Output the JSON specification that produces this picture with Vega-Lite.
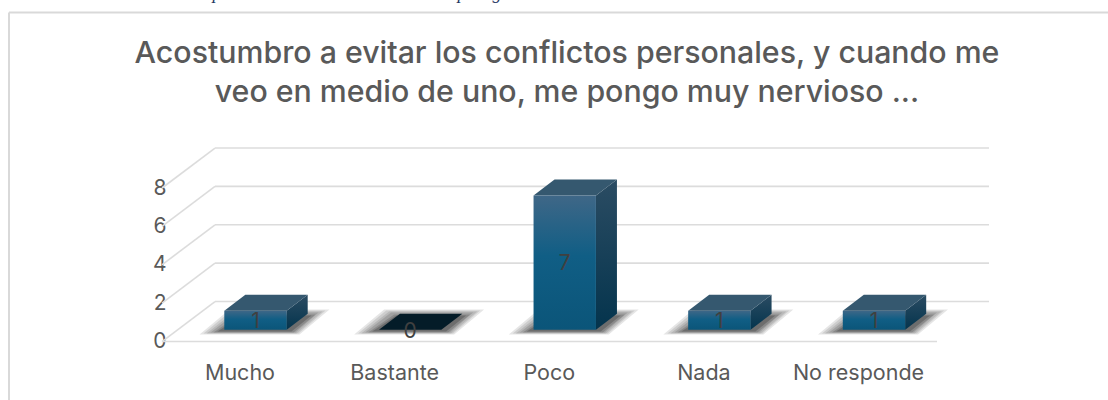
{
"$schema":"https://vega.github.io/schema/vega-lite/v6.json",
"width":1108,"height":400,"autosize":{"type":"none"},"padding":0,
"background":"white",
"view":{"stroke":null},
"config":{"font":"Inter"},
"title":{"text":["Acostumbro a evitar los conflictos personales, y cuando me","veo en medio de uno, me pongo muy nervioso ..."],"anchor":"middle","frame":"group","offset":-124,"fontSize":30.3,"fontWeight":500,"color":"#595959","font":"Inter","lineHeight":39,"dx":13},
"datasets":{
"answers":[{"respuesta":"Mucho","value":1},{"respuesta":"Bastante","value":0},{"respuesta":"Poco","value":7},{"respuesta":"Nada","value":1},{"respuesta":"No responde","value":1}],
"levels":[{"level":0,"back":2.08},{"level":2,"back":4.08},{"level":4,"back":6.08},{"level":6,"back":8.08},{"level":8,"back":10.08}]
},
"resolve":{"scale":{"x":"independent","y":"independent"}},
"layer":[
{"data":{"values":[{}]},"mark":{"type":"text","font":"Liberation Serif","fontStyle":"italic","fontSize":18,"color":"#1f3864","baseline":"alphabetic"},
 "encoding":{"text":{"value":"p"},"y":{"datum":17.86,"type":"quantitative","axis":null,"scale":{"domain":[-3.0469,17.7969],"range":[400,0],"nice":false,"zero":false}},
 "x":{"datum":55,"type":"quantitative","axis":null,"scale":{"domain":[-162,946],"range":[0,1108],"nice":false,"zero":false}}}},
{"data":{"values":[{}]},"mark":{"type":"text","font":"Liberation Serif","fontStyle":"italic","fontSize":18,"color":"#1f3864","baseline":"alphabetic"},
 "encoding":{"text":{"value":"p"},"y":{"datum":17.86,"type":"quantitative","axis":null,"scale":{"domain":[-3.0469,17.7969],"range":[400,0],"nice":false,"zero":false}},
 "x":{"datum":300,"type":"quantitative","axis":null,"scale":{"domain":[-162,946],"range":[0,1108],"nice":false,"zero":false}}}},
{"data":{"values":[{}]},"mark":{"type":"text","font":"Liberation Serif","fontStyle":"italic","fontSize":18,"color":"#1f3864","baseline":"alphabetic"},
 "encoding":{"text":{"value":"g"},"y":{"datum":17.86,"type":"quantitative","axis":null,"scale":{"domain":[-3.0469,17.7969],"range":[400,0],"nice":false,"zero":false}},
 "x":{"datum":335,"type":"quantitative","axis":null,"scale":{"domain":[-162,946],"range":[0,1108],"nice":false,"zero":false}}}},
{"data":{"name":"levels"},"mark":{"type":"rule","color":"#dcdcdc","strokeWidth":1.6,"xOffset":53,"x2Offset":53,"yOffset":-40},
 "encoding":{"y":{"field":"level","type":"quantitative","axis":null,"scale":{"domain":[-3.0469,17.7969],"range":[400,0],"nice":false,"zero":false}},
 "x":{"datum":0,"type":"quantitative","axis":null,"scale":{"domain":[-162,946],"range":[0,1108],"nice":false,"zero":false}},"x2":{"datum":774}}},
{"data":{"name":"levels"},"mark":{"type":"rule","color":"#dcdcdc","strokeWidth":1.6},
 "encoding":{"y":{"field":"level","type":"quantitative","axis":null,"scale":{"domain":[-3.0469,17.7969],"range":[400,0],"nice":false,"zero":false}},
 "y2":{"field":"back"},
 "x":{"datum":0,"type":"quantitative","axis":null,"scale":{"domain":[-162,946],"range":[0,1108],"nice":false,"zero":false}},"x2":{"datum":53}}},
{"data":{"values":[{"level":0}]},"mark":{"type":"rule","color":"#dcdcdc","strokeWidth":1.6},
 "encoding":{"y":{"field":"level","type":"quantitative","axis":null,"scale":{"domain":[-3.0469,17.7969],"range":[400,0],"nice":false,"zero":false}},
 "x":{"datum":0,"type":"quantitative","axis":null,"scale":{"domain":[-162,946],"range":[0,1108],"nice":false,"zero":false}},"x2":{"datum":775}}},
{"data":{"values":[{"level":17.15}]},"mark":{"type":"rule","color":"#d9d9d9","strokeWidth":2},
 "encoding":{"y":{"field":"level","type":"quantitative","axis":null,"scale":{"domain":[-3.0469,17.7969],"range":[400,0],"nice":false,"zero":false}},
 "x":{"datum":-153,"type":"quantitative","axis":null,"scale":{"domain":[-162,946],"range":[0,1108],"nice":false,"zero":false}},"x2":{"datum":946}}},
{"data":{"values":[{"level":17.15}]},"mark":{"type":"rule","color":"#d9d9d9","strokeWidth":2},
 "encoding":{"y":{"field":"level","type":"quantitative","axis":null,"scale":{"domain":[-3.0469,17.7969],"range":[400,0],"nice":false,"zero":false}},"y2":{"datum":-3.05},
 "x":{"datum":-153,"type":"quantitative","axis":null,"scale":{"domain":[-162,946],"range":[0,1108],"nice":false,"zero":false}}}},
{"data":{"name":"answers"},"mark":{"type":"point","filled":true,"size":4,"opacity":0.1,"color":"#000","shape":"M-56,-7L44,-7L74,-32L-26,-32Z"},
 "encoding":{"x":{"field":"respuesta","type":"nominal","sort":null,"axis":null,"scale":{"type":"point","padding":0,"domain":["Mucho","Bastante","Poco","Nada","No responde"],"range":[255.5,874]}},
 "y":{"datum":0,"type":"quantitative","axis":null,"scale":{"domain":[-3.0469,17.7969],"range":[400,0],"nice":false,"zero":false}}}},
{"data":{"name":"answers"},"mark":{"type":"point","filled":true,"size":4,"opacity":0.1,"color":"#000","shape":"M-52,-8L43,-8L70,-31L-24,-31Z"},
 "encoding":{"x":{"field":"respuesta","type":"nominal","sort":null,"axis":null,"scale":{"type":"point","padding":0,"domain":["Mucho","Bastante","Poco","Nada","No responde"],"range":[255.5,874]}},
 "y":{"datum":0,"type":"quantitative","axis":null,"scale":{"domain":[-3.0469,17.7969],"range":[400,0],"nice":false,"zero":false}}}},
{"data":{"name":"answers"},"mark":{"type":"point","filled":true,"size":4,"opacity":0.1,"color":"#000","shape":"M-49,-8L41,-8L67,-30L-21,-30Z"},
 "encoding":{"x":{"field":"respuesta","type":"nominal","sort":null,"axis":null,"scale":{"type":"point","padding":0,"domain":["Mucho","Bastante","Poco","Nada","No responde"],"range":[255.5,874]}},
 "y":{"datum":0,"type":"quantitative","axis":null,"scale":{"domain":[-3.0469,17.7969],"range":[400,0],"nice":false,"zero":false}}}},
{"data":{"name":"answers"},"mark":{"type":"point","filled":true,"size":4,"opacity":0.12,"color":"#000","shape":"M-45,-9L40,-9L63,-29L-19,-29Z"},
 "encoding":{"x":{"field":"respuesta","type":"nominal","sort":null,"axis":null,"scale":{"type":"point","padding":0,"domain":["Mucho","Bastante","Poco","Nada","No responde"],"range":[255.5,874]}},
 "y":{"datum":0,"type":"quantitative","axis":null,"scale":{"domain":[-3.0469,17.7969],"range":[400,0],"nice":false,"zero":false}}}},
{"data":{"name":"answers"},"mark":{"type":"point","filled":true,"size":4,"opacity":0.15,"color":"#000","shape":"M-42,-9L38,-9L60,-27L-16,-27Z"},
 "encoding":{"x":{"field":"respuesta","type":"nominal","sort":null,"axis":null,"scale":{"type":"point","padding":0,"domain":["Mucho","Bastante","Poco","Nada","No responde"],"range":[255.5,874]}},
 "y":{"datum":0,"type":"quantitative","axis":null,"scale":{"domain":[-3.0469,17.7969],"range":[400,0],"nice":false,"zero":false}}}},
{"data":{"name":"answers"},"mark":{"type":"point","filled":true,"size":4,"opacity":0.2,"color":"#000","shape":"M-38,-10L36,-10L56,-26L-14,-26Z"},
 "encoding":{"x":{"field":"respuesta","type":"nominal","sort":null,"axis":null,"scale":{"type":"point","padding":0,"domain":["Mucho","Bastante","Poco","Nada","No responde"],"range":[255.5,874]}},
 "y":{"datum":0,"type":"quantitative","axis":null,"scale":{"domain":[-3.0469,17.7969],"range":[400,0],"nice":false,"zero":false}}}},
{"data":{"name":"answers"},"transform":[{"filter":"datum.value > 0"}],
 "mark":{"type":"point","filled":true,"size":4,"opacity":1,"color":{"x1":0,"y1":0,"x2":0,"y2":1,"gradient":"linear","stops":[{"offset":0,"color":"#2b4c63"},{"offset":1,"color":"#04344d"}]}},
 "encoding":{"x":{"field":"respuesta","type":"nominal","sort":null,"axis":null,"scale":{"type":"point","padding":0,"domain":["Mucho","Bastante","Poco","Nada","No responde"],"range":[255.5,874]}},
 "y":{"datum":0,"type":"quantitative","axis":null,"scale":{"domain":[-3.0469,17.7969],"range":[400,0],"nice":false,"zero":false}},
 "shape":{"field":"value","type":"nominal","legend":null,"scale":{"domain":[1,7],"range":["M31.2,-11.7L52.2,-27.7L52.2,-46.9L31.2,-30.9Z","M31.2,-11.7L52.2,-27.7L52.2,-162.1L31.2,-146.1Z"]}}}},
{"data":{"name":"answers"},"mark":{"type":"point","filled":true,"size":4,"opacity":1,"shape":"M-31.2,-11.7L31.2,-11.7L52.2,-27.7L-10.2,-27.7Z"},
 "encoding":{"x":{"field":"respuesta","type":"nominal","sort":null,"axis":{"orient":"bottom","offset":-27,"domain":false,"ticks":false,"title":null,"labelAngle":0,"labelFontSize":21.5,"labelColor":"#595959","labelFont":"Inter","labelFontWeight":400,"labelPadding":0,"labelOffset":-16,"labelBaseline":"middle"},"scale":{"type":"point","padding":0,"domain":["Mucho","Bastante","Poco","Nada","No responde"],"range":[255.5,874]}},
 "y":{"field":"value","type":"quantitative","axis":{"orient":"left","offset":-166,"grid":false,"domain":false,"ticks":false,"title":null,"values":[0,2,4,6,8],"labelFontSize":21,"labelColor":"#595959","labelFont":"Inter","labelPadding":0},"scale":{"domain":[-3.0469,17.7969],"range":[400,0],"nice":false,"zero":false}},
 "fill":{"condition":{"test":"datum.value === 0","value":"#041c28"},"value":"#35586f"}}},
{"data":{"name":"answers"},"mark":{"type":"bar","width":62.4,"yOffset":-11.7,"y2Offset":-11.7,"color":{"x1":0,"y1":0,"x2":0,"y2":1,"gradient":"linear","stops":[{"offset":0,"color":"#3f6787"},{"offset":0.45,"color":"#105e85"},{"offset":1,"color":"#0b5579"}]}},
 "encoding":{"x":{"field":"respuesta","type":"nominal","sort":null,"axis":null,"scale":{"type":"point","padding":0,"domain":["Mucho","Bastante","Poco","Nada","No responde"],"range":[255.5,874]}},
 "y":{"field":"value","type":"quantitative","axis":null,"scale":{"domain":[-3.0469,17.7969],"range":[400,0],"nice":false,"zero":false}},"y2":{"datum":0}}},
{"data":{"name":"answers"},"mark":{"type":"text","fontSize":21,"color":"#404040","font":"Inter","baseline":"middle","yOffset":-10},
 "encoding":{"x":{"field":"respuesta","type":"nominal","sort":null,"axis":null,"scale":{"type":"point","padding":0,"domain":["Mucho","Bastante","Poco","Nada","No responde"],"range":[255.5,874]}},
 "y":{"field":"value","type":"quantitative","axis":null,"scale":{"domain":[-6.0938,35.5938],"range":[400,0],"nice":false,"zero":false}},
 "text":{"field":"value","type":"quantitative"}}}
]
}
